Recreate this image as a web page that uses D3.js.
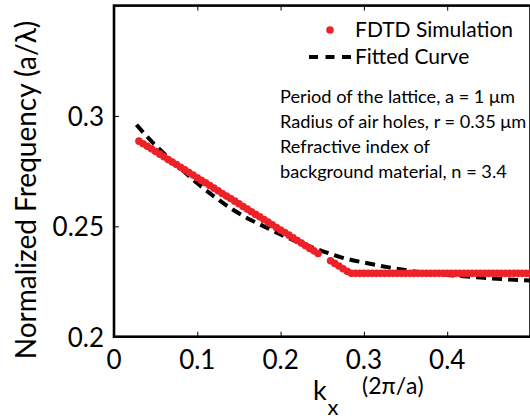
<!DOCTYPE html>
<html>
<head>
<meta charset="utf-8">
<script src="https://cdn.jsdelivr.net/npm/d3@7"></script>
<style>
  body { margin: 0; background: #fff; }
  svg { display: block; font-family: Lato, sans-serif; }
</style>
</head>
<body>
<div id="chart"></div>
<script>
// FDTD simulation points (kx in 2pi/a, normalized frequency a/lambda)
var simK = [
  0.030, 0.035, 0.040, 0.045, 0.050, 0.055, 0.060, 0.065, 0.070, 0.075,
  0.080, 0.085, 0.090, 0.095, 0.100, 0.105, 0.110, 0.115, 0.120, 0.125,
  0.130, 0.135, 0.140, 0.145, 0.150, 0.155, 0.160, 0.165, 0.170, 0.175,
  0.180, 0.185, 0.190, 0.195, 0.200, 0.205, 0.210, 0.215, 0.220, 0.225,
  0.230, 0.235, 0.240, 0.245,
  0.260, 0.265, 0.270, 0.275, 0.280, 0.285,
  0.290, 0.295, 0.300, 0.305, 0.310, 0.315, 0.320, 0.325, 0.330, 0.335,
  0.340, 0.345, 0.350, 0.355, 0.360, 0.365, 0.370, 0.375, 0.380, 0.385,
  0.390, 0.395, 0.400, 0.405, 0.410, 0.415, 0.420, 0.425, 0.430, 0.435,
  0.440, 0.445, 0.450, 0.455, 0.460, 0.465, 0.470, 0.475, 0.480, 0.485,
  0.490, 0.495, 0.500
];
var simF = [
  0.2886, 0.2874, 0.2863, 0.2851, 0.2839, 0.2827, 0.2815, 0.2803, 0.2791, 0.2780,
  0.2768, 0.2756, 0.2744, 0.2732, 0.2720, 0.2708, 0.2697, 0.2685, 0.2673, 0.2661,
  0.2649, 0.2637, 0.2626, 0.2614, 0.2602, 0.2590, 0.2578, 0.2566, 0.2554, 0.2543,
  0.2531, 0.2519, 0.2507, 0.2495, 0.2483, 0.2472, 0.2460, 0.2448, 0.2436, 0.2424,
  0.2412, 0.2400, 0.2389, 0.2377,
  0.2344, 0.2332, 0.2320, 0.2308, 0.2296, 0.2287,
  0.2287, 0.2287, 0.2287, 0.2287, 0.2287, 0.2287, 0.2287, 0.2287, 0.2287, 0.2287,
  0.2287, 0.2287, 0.2287, 0.2287, 0.2287, 0.2287, 0.2287, 0.2287, 0.2287, 0.2287,
  0.2287, 0.2287, 0.2287, 0.2287, 0.2287, 0.2287, 0.2287, 0.2287, 0.2287, 0.2287,
  0.2287, 0.2287, 0.2287, 0.2287, 0.2287, 0.2287, 0.2287, 0.2287, 0.2287, 0.2287,
  0.2287, 0.2287, 0.2287
];

// fitted curve
var fitK = [0.027, 0.04, 0.06, 0.08, 0.10, 0.12, 0.14, 0.16, 0.18, 0.20, 0.22,
            0.24, 0.26, 0.28, 0.30, 0.33, 0.36, 0.40, 0.44, 0.48, 0.50];
var fitF = [0.2960, 0.2905, 0.2830, 0.2762, 0.2695, 0.2636, 0.2582, 0.2537, 0.2500,
            0.2463, 0.2430, 0.2402, 0.2375, 0.2352, 0.2336, 0.2314, 0.2296, 0.2280,
            0.2268, 0.2258, 0.2255];

var xTicks = [0, 0.1, 0.2, 0.3, 0.4];
var yTicks = [0.2, 0.25, 0.3];
var notes = ['Period of the lattice, a = 1 \u03bcm',
             'Radius of air holes, r = 0.35 \u03bcm',
             'Refractive index of',
             'background material, n = 3.4'];

var width = 530, height = 419;
var red = '#ed2228';

var svg = d3.select('#chart')
    .append('svg')
    .attr('width', width)
    .attr('height', height);

var x = d3.scaleLinear().domain([0, 0.5]).range([114, 530.5]);
var y = d3.scaleLinear().domain([0.2, 0.35]).range([336.7, 5.6]);

// frame
svg.append('rect')
    .attr('x', x(0))
    .attr('y', y(0.35))
    .attr('width', x(0.5) - x(0))
    .attr('height', y(0.2) - y(0.35))
    .attr('fill', 'none')
    .attr('stroke', '#000')
    .attr('stroke-width', 2.6);

// ticks pointing inward
var bottomAxis = d3.axisBottom(x).tickValues(xTicks).tickSize(-5).tickFormat('');
var topAxis = d3.axisTop(x).tickValues(xTicks).tickSize(-5).tickFormat('');
var leftAxis = d3.axisLeft(y).tickValues(yTicks).tickSize(-5).tickFormat('');

[[bottomAxis, `translate(0,${y(0.2)})`],
 [topAxis, `translate(0,${y(0.35)})`],
 [leftAxis, `translate(${x(0)},0)`]].forEach(function(a) {
    var g = svg.append('g').attr('transform', a[1]).call(a[0]);
    g.select('.domain').remove();
    g.selectAll('line').attr('stroke', '#000').attr('stroke-width', 1);
});

// tick labels
svg.append('g')
    .selectAll('text')
    .data(xTicks)
    .join('text')
    .attr('x', d => x(d))
    .attr('y', 368.5)
    .attr('text-anchor', 'middle')
    .attr('font-size', 26)
    .text(d => d === 0 ? '0' : d3.format('.1f')(d));

svg.append('g')
    .selectAll('text')
    .data(yTicks)
    .join('text')
    .attr('x', 104)
    .attr('y', d => y(d) + 10)
    .attr('text-anchor', 'end')
    .attr('font-size', 26)
    .text(d => String(d));

// axis titles
svg.append('text').attr('x', 313).attr('y', 399.5).attr('font-size', 27).text('k');
svg.append('text').attr('x', 327.5).attr('y', 415).attr('font-size', 22).text('x');

svg.append('text')
    .attr('x', 362)
    .attr('y', 394)
    .attr('font-size', 23)
    .text('(2\u03c0/a)');

svg.append('text')
    .attr('transform', `translate(36,190)rotate(-90)`)
    .attr('text-anchor', 'middle')
    .attr('font-size', 28)
    .text('Normalized Frequency (a/\u03bb)');

// fitted curve
var fitData = fitK.map((k, i) => [k, fitF[i]]);
svg.append('path')
    .datum(fitData)
    .attr('d', d3.line().x(d => x(d[0])).y(d => y(d[1])).curve(d3.curveMonotoneX))
    .attr('fill', 'none')
    .attr('stroke', '#000')
    .attr('stroke-width', 4)
    .attr('stroke-dasharray', '10,6');

// simulation points
var simData = simK.map((k, i) => [k, simF[i]]);
svg.append('g')
    .selectAll('circle')
    .data(simData)
    .join('circle')
    .attr('cx', d => x(d[0]))
    .attr('cy', d => y(d[1]))
    .attr('r', 3.8)
    .attr('fill', red);

// legend
svg.append('circle').attr('cx', 330).attr('cy', 30).attr('r', 3.8).attr('fill', red);
svg.append('text').attr('x', 355).attr('y', 36.5).attr('font-size', 21).text('FDTD Simulation');
svg.append('line')
    .attr('x1', 309).attr('x2', 351).attr('y1', 57).attr('y2', 57)
    .attr('stroke', '#000').attr('stroke-width', 4).attr('stroke-dasharray', '9,7.5');
svg.append('text').attr('x', 355).attr('y', 63.5).attr('font-size', 21).text('Fitted Curve');

// annotation
svg.append('g')
    .selectAll('text')
    .data(notes)
    .join('text')
    .attr('x', 280)
    .attr('y', (d, i) => 103.3 + i * 24.8)
    .attr('font-size', 18.2)
    .text(d => d);
</script>
</body>
</html>
